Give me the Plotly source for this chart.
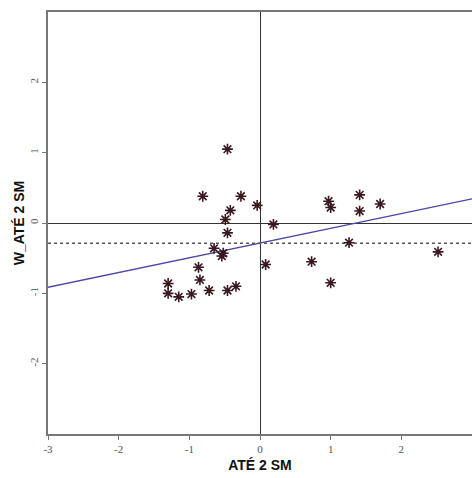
import numpy as np
import plotly.graph_objects as go

# Standardized variable (x) and its spatial lag (y)
ate_2sm = [-0.46, -0.81, -0.27, -0.42, -0.49, -0.04, 0.19, -0.46, -0.65, -0.52,
           -0.54, 0.08, -0.87, -0.85, -1.30, -1.30, -1.15, -0.97, -0.72, -0.46,
           -0.34, 0.97, 1.00, 1.41, 1.41, 1.70, 1.26, 0.73, 1.00, 2.52]
w_ate_2sm = [1.05, 0.38, 0.38, 0.18, 0.05, 0.25, -0.02, -0.14, -0.36, -0.43,
             -0.47, -0.59, -0.63, -0.81, -0.86, -1.00, -1.05, -1.01, -0.96, -0.96,
             -0.90, 0.31, 0.22, 0.40, 0.17, 0.27, -0.28, -0.55, -0.85, -0.41]
x_ticks = [-3, -2, -1, 0, 1, 2, 3]
y_ticks = [-2, -1, 0, 1, 2]
axis_range = [-3, 3]

xa = np.array(ate_2sm)
ya = np.array(w_ate_2sm)
slope, intercept = np.polyfit(xa, ya, 1)
y_mean = float(ya.mean())
line_x = np.array(axis_range, dtype=float)
line_y = intercept + slope * line_x

fig = go.Figure()
fig.add_trace(go.Scatter(x=line_x, y=line_y, mode="lines",
                         line=dict(color="#4a4aa8", width=1.3), hoverinfo="skip"))
fig.add_trace(go.Scatter(x=line_x, y=[y_mean, y_mean], mode="lines",
                         line=dict(color="#555555", width=1.6, dash="dot"), hoverinfo="skip"))
fig.add_trace(go.Scatter(x=ate_2sm, y=w_ate_2sm, mode="markers",
                         marker=dict(symbol="asterisk-open", size=9, color="#3a1820",
                                     line=dict(color="#3a1820", width=1.6))))

tick_font = dict(family="Liberation Serif", size=11, color="#555555")
title_font = dict(family="Liberation Sans", size=14, color="#111111")

fig.update_layout(
    width=472, height=478,
    margin=dict(l=48, r=0, t=12, b=44),
    paper_bgcolor="white", plot_bgcolor="white",
    showlegend=False,
    xaxis=dict(range=axis_range, tickvals=x_ticks, ticktext=[str(v) for v in x_ticks],
               showgrid=False, zeroline=True, zerolinecolor="#333333", zerolinewidth=1.2,
               showline=True, linecolor="#777777", linewidth=1.5, mirror=True,
               ticks="outside", ticklen=4, tickcolor="#777777", tickfont=tick_font,
               title=dict(text="<b>ATÉ 2 SM</b>", font=title_font, standoff=6),
               automargin=False),
    yaxis=dict(range=axis_range, tickvals=y_ticks, ticktext=[str(v) for v in y_ticks],
               showgrid=False, zeroline=True, zerolinecolor="#333333", zerolinewidth=1.2,
               showline=True, linecolor="#777777", linewidth=1.5,
               ticks="outside", ticklen=4, tickcolor="#777777", tickfont=tick_font,
               tickangle=-90,
               title=dict(text="<b>W_ATÉ 2 SM</b>", font=title_font, standoff=0),
               automargin=False),
)

fig.write_html("out.html")
